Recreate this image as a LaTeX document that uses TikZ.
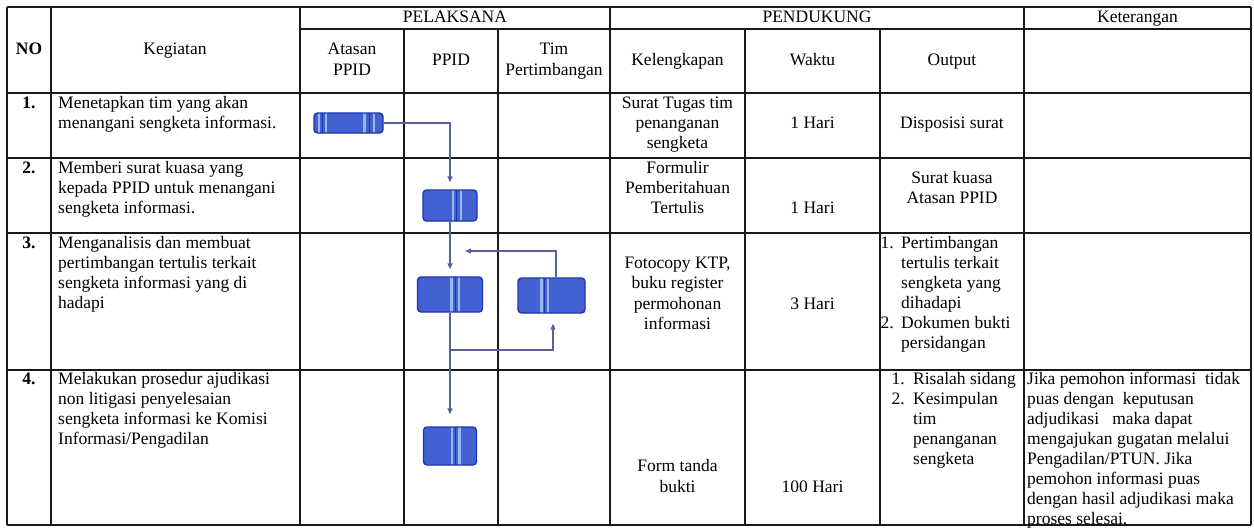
\documentclass[tikz,border=0pt]{standalone}
\usepackage{fontspec}
\setmainfont{Liberation Serif}
\usetikzlibrary{calc,arrows.meta}
\definecolor{procfill}{RGB}{66,98,210}
\definecolor{procline}{RGB}{30,52,176}
\definecolor{stripecol}{RGB}{155,182,244}
\definecolor{conncol}{RGB}{88,98,158}
\definecolor{gridcol}{RGB}{25,25,25}
\begin{document}
\begin{tikzpicture}[x=1pt,y=-1pt,
  every node/.style={font=\fontsize{17.5pt}{20.1pt}\selectfont, inner sep=0pt},
  tbl/.style={draw=gridcol, line width=1.4pt},
  txt/.style={align=center},
  ltxt/.style={align=left, anchor=north west},
  num/.style={font=\fontsize{17.5pt}{20.1pt}\selectfont\bfseries},
  proc/.style={draw=procline, fill=procfill, line width=1.4pt, rounded corners=3.5pt},
  bars/.style 2 args={path picture={
     \foreach \f in {#1}{\draw[stripecol, line width=2.4pt]
       ($(path picture bounding box.south west)!\f!(path picture bounding box.south east)$) --
       ($(path picture bounding box.north west)!\f!(path picture bounding box.north east)$);}
     \foreach \f in {#2}{\draw[procline, line width=1pt]
       ($(path picture bounding box.south west)!\f!(path picture bounding box.south east)$) --
       ($(path picture bounding box.north west)!\f!(path picture bounding box.north east)$);}
  }},
  conn/.style={draw=conncol, line width=1.2pt},
  arr/.style={conn, -{Triangle[length=6pt,width=5pt]}},
]
\useasboundingbox (0,0) rectangle (1254,530);
\fill[white] (0,0) rectangle (1254,530);

% ---------- grid ----------
\draw[tbl] (7,7) -- (1251,7);
\draw[tbl] (300,29) -- (1251,29);
\foreach \yy in {93,158,233,370,525} {\draw[tbl] (7,\yy) -- (1251,\yy);}
\foreach \xx in {7,51,300,610,1024,1251} {\draw[tbl] (\xx,7) -- (\xx,525);}
\foreach \xx in {404,498,745,880} {\draw[tbl] (\xx,29) -- (\xx,525);}

% ---------- header ----------
\node[num] (hno) at (29,50) {\strut NO\strut};
\node[txt] (hkeg) at (175,50) {\strut Kegiatan\strut};
\node[txt] (hpel) at (455,18) {\strut PELAKSANA\strut};
\node[txt] (hpen) at (817,18) {\strut PENDUKUNG\strut};
\node[txt] (hket) at (1137.5,18) {\strut Keterangan\strut};
\node[txt] (hatas) at (352,61) {\strut Atasan\\PPID\strut};
\node[txt] (hppid) at (451,61) {\strut PPID\strut};
\node[txt] (htim) at (554,61) {\strut Tim\\Pertimbangan\strut};
\node[txt] (hkel) at (677.5,61) {\strut Kelengkapan\strut};
\node[txt] (hwak) at (812.5,61) {\strut Waktu\strut};
\node[txt] (hout) at (952,61) {\strut Output\strut};

% ---------- row 1 ----------
\node[num] (n1) at (29,104) {\strut 1.\strut};
\node[ltxt] (k1) at (58,94) {\strut Menetapkan tim yang akan\\menangani sengketa informasi.\strut};
\node[txt] (l1) at (677.5,124.5) {\strut Surat Tugas tim\\penanganan\\sengketa\strut};
\node[txt] (w1) at (812.5,124.5) {\strut 1 Hari\strut};
\node[txt] (o1) at (952,124.5) {\strut Disposisi surat\strut};

% ---------- row 2 ----------
\node[num] (n2) at (29,169) {\strut 2.\strut};
\node[ltxt] (k2) at (58,159) {\strut Memberi surat kuasa yang\\kepada PPID untuk menangani\\sengketa informasi.\strut};
\node[txt] (l2) at (677.5,189.1) {\strut Formulir\\Pemberitahuan\\Tertulis\strut};
\node[txt] (w2) at (812.5,209.2) {\strut 1 Hari\strut};
\node[txt] (o2) at (952,189.1) {\strut Surat kuasa\\Atasan PPID\strut};

% ---------- row 3 ----------
\node[num] (n3) at (29,244) {\strut 3.\strut};
\node[ltxt] (k3) at (58,234) {\strut Menganalisis dan membuat\\pertimbangan tertulis terkait\\sengketa informasi yang di\\hadapi\strut};
\node[txt] (l3) at (677.5,295) {\strut Fotocopy KTP,\\buku register\\permohonan\\informasi\strut};
\node[txt] (w3) at (812.5,305) {\strut 3 Hari\strut};
\node[anchor=west] (o3a) at (880.5,244) {\strut 1.\strut};
\node[ltxt] (o3b) at (901,234) {\strut Pertimbangan\\tertulis terkait\\sengketa yang\\dihadapi\strut};
\node[anchor=west] (o3c) at (880.5,324.4) {\strut 2.\strut};
\node[ltxt] (o3d) at (901,314.4) {\strut Dokumen bukti\\persidangan\strut};

% ---------- row 4 ----------
\node[num] (n4) at (29,380) {\strut 4.\strut};
\node[ltxt] (k4) at (58,370) {\strut Melakukan prosedur ajudikasi\\non litigasi penyelesaian\\sengketa informasi ke Komisi\\Informasi/Pengadilan\strut};
\node[txt] (l4) at (677.5,478) {\strut Form tanda\\bukti\strut};
\node[txt] (w4) at (812.5,488) {\strut 100 Hari\strut};
\node[anchor=east] (o4a) at (905,380) {\strut 1.\strut};
\node[ltxt] (o4b) at (913,370) {\strut Risalah sidang\strut};
\node[anchor=east] (o4c) at (905,400.1) {\strut 2.\strut};
\node[ltxt] (o4d) at (913,390.1) {\strut Kesimpulan\\tim\\penanganan\\sengketa\strut};
\node[ltxt] (ket4) at (1027,370) {\strut Jika pemohon informasi\ \ tidak\\puas dengan\ \ keputusan\\adjudikasi\ \ \ maka dapat\\mengajukan gugatan melalui\\Pengadilan/PTUN. Jika\\pemohon informasi puas\\dengan hasil adjudikasi maka\\proses selesai.\strut};

% ---------- flow shapes ----------
\node[proc, minimum width=69pt, minimum height=20pt, bars={0.07,0.17,0.73,0.87}{0.12,0.80}] (s1) at (348.5,123) {};
\node[proc, minimum width=54pt, minimum height=31pt, bars={0.55,0.70}{0.625}] (s2) at (450,205.5) {};
\node[proc, minimum width=65pt, minimum height=35pt, bars={0.52,0.64}{0.58}] (s3) at (450,294.5) {};
\node[proc, minimum width=67pt, minimum height=35pt, bars={0.35,0.45}{0.40}] (t3) at (551.5,295.5) {};
\node[proc, minimum width=53pt, minimum height=38pt, bars={0.54,0.68}{0.61}] (s4) at (450,446) {};

% ---------- connectors ----------
\coordinate (br) at (450,350);
\coordinate (fb) at (465,251);
\draw[arr, shorten >=7pt] (s1.east) -| (s2.north);
\draw[arr, shorten >=7pt] (s2.south) -- (s3.north);
\draw[arr, shorten >=12pt] (s3.south) -- (s4.north);
\draw[arr, shorten >=10pt] (br) -| ([xshift=1.5pt]t3.south);
\draw[arr] ([xshift=4.5pt]t3.north) |- (fb);
\end{tikzpicture}
\end{document}
